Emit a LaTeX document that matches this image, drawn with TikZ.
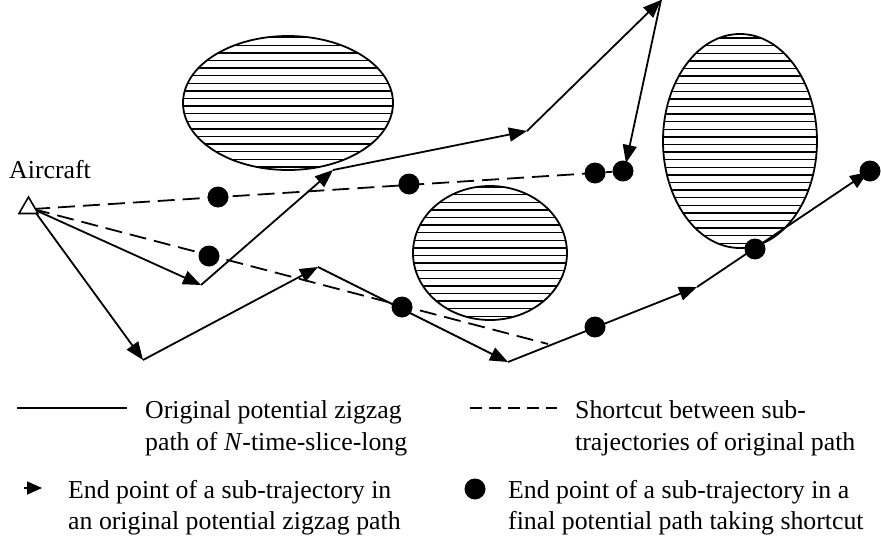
\documentclass[tikz,border=0pt]{standalone}
\usepackage{fontspec}
\setmainfont{Liberation Serif}
\usetikzlibrary{arrows.meta,shapes.geometric}
\begin{document}
\begin{tikzpicture}[x=1pt,y=-1pt,
  seg/.style={line width=1.8pt, -{Triangle[length=18pt,width=14pt]}},
  cut/.style={line width=1.8pt, dash pattern=on 17pt off 8pt},
  dot/.style={circle, fill=black, inner sep=0pt, minimum size=21pt},
  obst/.style={line width=1.8pt},
  hatch/.style={line width=1.4pt},
  lbl/.style={font=\fontsize{25.8}{31}\selectfont, inner sep=0pt, anchor=base west}]
\useasboundingbox (0,0) rectangle (881,546);

% obstacles
\begin{scope}
  \clip (288,103) ellipse [x radius=105pt, y radius=67pt];
  \foreach \y in {37.6,45.2,...,172} \draw[hatch] (180,\y) -- (400,\y);
\end{scope}
\draw[obst] (288,103) ellipse [x radius=105pt, y radius=67pt];

\begin{scope}
  \clip (490,253) ellipse [x radius=77pt, y radius=67pt];
  \foreach \y in {187,194.6,...,322} \draw[hatch] (410,\y) -- (570,\y);
\end{scope}
\draw[obst] (490,253) ellipse [x radius=77pt, y radius=67pt];

\begin{scope}
  \clip (740,141) ellipse [x radius=77pt, y radius=107pt];
  \foreach \y in {38,45.6,...,250} \draw[hatch] (660,\y) -- (820,\y);
\end{scope}
\draw[obst] (740,141) ellipse [x radius=77pt, y radius=107pt];

% aircraft
\node[lbl] (lab) at (9,178) {Aircraft};
\coordinate (a) at (33,209);

% original zigzag path 1
\coordinate (p1) at (201,285);
\coordinate (p2) at (333,170);
\coordinate (p3) at (527,131);
\coordinate (p4) at (661,0);
\coordinate (p5) at (626,163);
% original zigzag path 2
\coordinate (q1) at (143,360);
\coordinate (q2) at (318,267);
\coordinate (q3) at (508,362);
\coordinate (q4) at (697,287);
\coordinate (q5) at (868,172);
% shortcut ends
\coordinate (s1) at (595,173);
\coordinate (s2) at (548,344);

\draw[seg] (a) -- (p1);
\draw[seg] (p1) -- (p2);
\draw[seg] (p2) -- (p3);
\draw[seg] (p3) -- (p4);
\draw[seg] (p4) -- (p5);

\draw[seg] (a) -- (q1);
\draw[seg] (q1) -- (q2);
\draw[seg] (q2) -- (q3);
\draw[seg] (q3) -- (q4);
\draw[seg] (q4) -- (q5);

\draw[cut] (a) -- (s1);
\draw[cut] (a) -- (s2);

\node[draw, line width=1.6pt, fill=white, regular polygon, regular polygon sides=3,
      minimum size=22pt, inner sep=0pt] (ac) at (28.5,208) {};

% dots
\node[dot] (d1) at (218,197) {};
\node[dot] (d2) at (409,184) {};
\node[dot] (d3) at (595,173) {};
\node[dot] (d4) at (623,171) {};
\draw[line width=1.8pt] (d3) -- (d4);
\node[dot] (d5) at (209,256) {};
\node[dot] (d6) at (402,307) {};
\node[dot] (d7) at (595,327) {};
\node[dot] (d8) at (755,249) {};
\node[dot] (d9) at (870,171) {};

% legend
\coordinate (l1a) at (17,408);
\coordinate (l1b) at (127,408);
\draw[line width=1.8pt] (l1a) -- (l1b);
\node[lbl] (t1) at (145,418) {Original potential zigzag};
\node[lbl] (t2) at (145,450) {path of \textit{N}-time-slice-long};

\coordinate (l2a) at (470,408);
\coordinate (l2b) at (557,408);
\draw[line width=1.8pt, dash pattern=on 12pt off 7pt] (l2a) -- (l2b);
\node[lbl] (t3) at (575,418) {Shortcut between sub-};
\node[lbl] (t4) at (575,450) {trajectories of original path};

\coordinate (l3a) at (24,488);
\coordinate (l3b) at (42,488);
\draw[line width=1.8pt, -{Triangle[length=15pt,width=13pt]}] (l3a) -- (l3b);
\node[lbl] (t5) at (68,498) {End point of a sub-trajectory in};
\node[lbl] (t6) at (68,529) {an original potential zigzag path};

\node[dot] (l4) at (475,489) {};
\node[lbl] (t7) at (508,498) {End point of a sub-trajectory in a};
\node[lbl] (t8) at (508,529) {final potential path taking shortcut};
\end{tikzpicture}
\end{document}
